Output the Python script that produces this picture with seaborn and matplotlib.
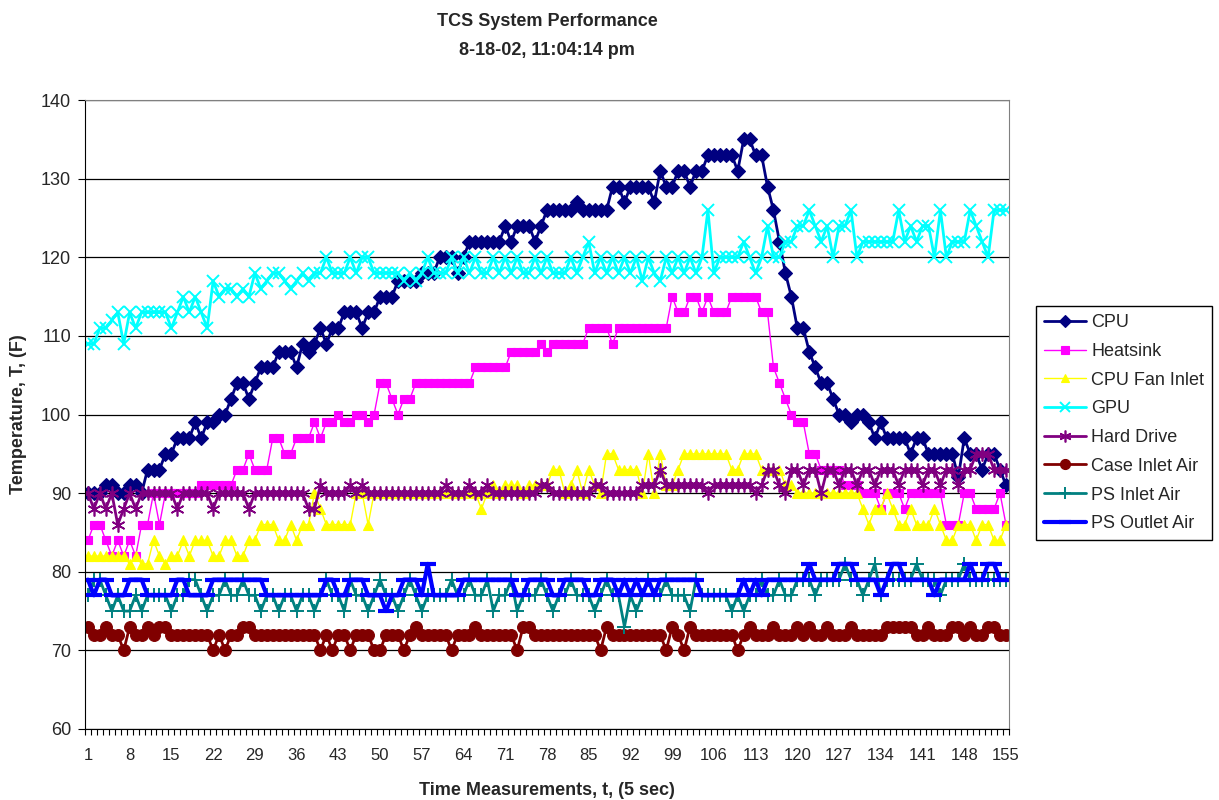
import matplotlib
matplotlib.use("Agg")
import matplotlib.pyplot as plt
import numpy as np
import pandas as pd
import seaborn as sns

# temperature log, one reading every 5 s (deg F)
time_idx = list(range(1, 156))

cpu = [90, 90, 90, 91, 91, 90, 90, 91, 91, 90,
       93, 93, 93, 95, 95, 97, 97, 97, 99, 97,
       99, 99, 100, 100, 102, 104, 104, 102, 104, 106,
       106, 106, 108, 108, 108, 106, 109, 108, 109, 111,
       109, 111, 111, 113, 113, 113, 111, 113, 113, 115,
       115, 115, 117, 117, 117, 117, 118, 118, 118, 120,
       120, 120, 118, 120, 122, 122, 122, 122, 122, 122,
       124, 122, 124, 124, 124, 122, 124, 126, 126, 126,
       126, 126, 127, 126, 126, 126, 126, 126, 129, 129,
       127, 129, 129, 129, 129, 127, 131, 129, 129, 131,
       131, 129, 131, 131, 133, 133, 133, 133, 133, 131,
       135, 135, 133, 133, 129, 126, 122, 118, 115, 111,
       111, 108, 106, 104, 104, 102, 100, 100, 99, 100,
       100, 99, 97, 99, 97, 97, 97, 97, 95, 97,
       97, 95, 95, 95, 95, 95, 92, 97, 95, 95,
       93, 95, 95, 93, 91]

heatsink = [84, 86, 86, 84, 82, 84, 82, 84, 82, 86,
            86, 90, 86, 90, 90, 90, 90, 90, 90, 91,
            91, 91, 91, 91, 91, 93, 93, 95, 93, 93,
            93, 97, 97, 95, 95, 97, 97, 97, 99, 97,
            99, 99, 100, 99, 99, 100, 100, 99, 100, 104,
            104, 102, 100, 102, 102, 104, 104, 104, 104, 104,
            104, 104, 104, 104, 104, 106, 106, 106, 106, 106,
            106, 108, 108, 108, 108, 108, 109, 108, 109, 109,
            109, 109, 109, 109, 111, 111, 111, 111, 109, 111,
            111, 111, 111, 111, 111, 111, 111, 111, 115, 113,
            113, 115, 115, 113, 115, 113, 113, 113, 115, 115,
            115, 115, 115, 113, 113, 106, 104, 102, 100, 99,
            99, 95, 95, 93, 93, 93, 93, 91, 91, 91,
            90, 90, 90, 88, 90, 90, 90, 88, 90, 90,
            90, 90, 90, 90, 86, 86, 86, 90, 90, 88,
            88, 88, 88, 90, 86]

fan_inlet = [82, 82, 82, 82, 82, 82, 82, 81, 82, 81,
             81, 84, 82, 81, 82, 82, 84, 82, 84, 84,
             84, 82, 82, 84, 84, 82, 82, 84, 84, 86,
             86, 86, 84, 84, 86, 84, 86, 86, 90, 88,
             86, 86, 86, 86, 86, 90, 90, 86, 90, 90,
             90, 90, 90, 90, 90, 90, 90, 90, 90, 90,
             90, 90, 90, 90, 90, 90, 88, 90, 91, 90,
             91, 91, 91, 90, 91, 91, 91, 91, 93, 93,
             90, 91, 93, 90, 93, 91, 90, 95, 95, 93,
             93, 93, 93, 90, 95, 90, 95, 91, 91, 93,
             95, 95, 95, 95, 95, 95, 95, 95, 93, 93,
             95, 95, 95, 93, 93, 93, 93, 91, 91, 90,
             90, 90, 90, 90, 90, 90, 90, 90, 90, 90,
             88, 86, 88, 88, 90, 88, 86, 86, 88, 86,
             86, 86, 88, 86, 84, 84, 86, 86, 86, 84,
             86, 86, 84, 84, 86]

gpu = [109, 109, 111, 111, 112, 113, 109, 113, 111, 113,
       113, 113, 113, 113, 111, 113, 115, 113, 115, 113,
       111, 117, 115, 116, 116, 115, 116, 115, 118, 116,
       117, 118, 118, 117, 116, 117, 118, 117, 118, 118,
       120, 118, 118, 118, 120, 118, 120, 120, 118, 118,
       118, 118, 118, 117, 118, 117, 118, 120, 118, 118,
       118, 120, 118, 120, 118, 120, 118, 118, 120, 118,
       120, 118, 120, 118, 118, 120, 118, 120, 118, 118,
       118, 120, 118, 120, 122, 118, 120, 118, 120, 118,
       120, 118, 120, 117, 120, 118, 117, 120, 118, 120,
       118, 120, 118, 120, 126, 118, 120, 120, 120, 120,
       122, 120, 118, 120, 124, 120, 120, 122, 122, 124,
       124, 126, 124, 122, 124, 120, 124, 124, 126, 120,
       122, 122, 122, 122, 122, 122, 126, 122, 124, 122,
       124, 124, 120, 126, 120, 122, 122, 122, 126, 124,
       122, 120, 126, 126, 126]

hard_drive = [90, 88, 90, 88, 90, 86, 88, 90, 88, 90,
              90, 90, 90, 90, 90, 88, 90, 90, 90, 90,
              90, 88, 90, 90, 90, 90, 90, 88, 90, 90,
              90, 90, 90, 90, 90, 90, 90, 88, 88, 91,
              90, 90, 90, 90, 91, 90, 91, 90, 90, 90,
              90, 90, 90, 90, 90, 90, 90, 90, 90, 90,
              91, 90, 90, 90, 91, 90, 90, 91, 90, 90,
              90, 90, 90, 90, 90, 90, 91, 91, 90, 90,
              90, 90, 90, 90, 90, 91, 91, 90, 90, 90,
              90, 90, 90, 91, 91, 91, 93, 91, 91, 91,
              91, 91, 91, 91, 90, 91, 91, 91, 91, 91,
              91, 91, 90, 91, 93, 93, 91, 90, 93, 93,
              91, 93, 93, 90, 93, 93, 91, 93, 93, 91,
              93, 93, 91, 93, 93, 93, 91, 93, 93, 93,
              91, 93, 93, 91, 93, 93, 91, 93, 93, 95,
              95, 95, 93, 93, 93]

case_inlet = [73, 72, 72, 73, 72, 72, 70, 73, 72, 72,
              73, 72, 73, 73, 72, 72, 72, 72, 72, 72,
              72, 70, 72, 70, 72, 72, 73, 73, 72, 72,
              72, 72, 72, 72, 72, 72, 72, 72, 72, 70,
              72, 70, 72, 72, 70, 72, 72, 72, 70, 70,
              72, 72, 72, 70, 72, 73, 72, 72, 72, 72,
              72, 70, 72, 72, 72, 73, 72, 72, 72, 72,
              72, 72, 70, 73, 73, 72, 72, 72, 72, 72,
              72, 72, 72, 72, 72, 72, 70, 73, 72, 72,
              72, 72, 72, 72, 72, 72, 72, 70, 73, 72,
              70, 73, 72, 72, 72, 72, 72, 72, 72, 70,
              72, 73, 72, 72, 72, 73, 72, 72, 72, 73,
              72, 73, 72, 72, 73, 72, 72, 72, 73, 72,
              72, 72, 72, 72, 73, 73, 73, 73, 73, 72,
              72, 73, 72, 72, 72, 73, 73, 72, 73, 72,
              72, 73, 73, 72, 72]

ps_inlet = [77, 79, 79, 77, 75, 77, 75, 75, 77, 75,
            77, 77, 77, 77, 75, 77, 77, 79, 79, 77,
            75, 77, 77, 79, 77, 77, 79, 77, 77, 75,
            77, 77, 75, 77, 77, 75, 77, 77, 75, 77,
            79, 77, 77, 75, 79, 77, 77, 75, 77, 79,
            77, 77, 75, 77, 79, 77, 75, 77, 77, 77,
            77, 79, 77, 77, 79, 77, 77, 79, 75, 77,
            77, 79, 75, 77, 77, 77, 79, 77, 75, 77,
            77, 79, 77, 77, 77, 75, 77, 79, 77, 77,
            73, 77, 75, 77, 79, 77, 77, 79, 77, 77,
            77, 75, 79, 77, 77, 77, 77, 77, 75, 77,
            75, 77, 77, 79, 77, 77, 79, 77, 77, 79,
            79, 79, 77, 79, 79, 79, 79, 81, 79, 79,
            77, 79, 81, 77, 79, 79, 79, 79, 79, 81,
            79, 79, 79, 77, 79, 79, 79, 81, 79, 79,
            79, 79, 79, 79, 79]

ps_outlet = [79, 77, 79, 79, 77, 77, 77, 79, 79, 79,
             77, 77, 77, 77, 77, 79, 79, 77, 77, 77,
             77, 79, 79, 79, 79, 79, 79, 79, 79, 79,
             77, 77, 77, 77, 77, 77, 77, 77, 77, 77,
             79, 79, 77, 77, 79, 79, 79, 77, 77, 77,
             75, 77, 77, 79, 79, 79, 77, 81, 77, 77,
             77, 77, 77, 79, 79, 79, 79, 79, 79, 79,
             79, 79, 77, 77, 79, 79, 79, 79, 77, 77,
             79, 79, 79, 79, 77, 77, 79, 79, 79, 77,
             79, 77, 79, 77, 79, 77, 79, 79, 79, 79,
             79, 79, 79, 77, 77, 77, 77, 77, 77, 77,
             79, 77, 79, 77, 79, 79, 79, 79, 79, 79,
             79, 81, 79, 79, 79, 79, 81, 81, 81, 79,
             79, 79, 79, 77, 79, 81, 81, 79, 79, 79,
             79, 79, 77, 79, 79, 79, 79, 79, 81, 79,
             79, 81, 81, 79, 79]

series_names = ["CPU", "Heatsink", "CPU Fan Inlet", "GPU", "Hard Drive",
                "Case Inlet Air", "PS Inlet Air", "PS Outlet Air"]
series_values = [cpu, heatsink, fan_inlet, gpu, hard_drive,
                 case_inlet, ps_inlet, ps_outlet]
series_colors = ["#000080", "#FF00FF", "#FFFF00", "#00FFFF", "#800080",
                 "#800000", "#008080", "#0000FF"]

# excel-ish marker styles per series
line_styles = [
    dict(marker="D", markersize=7, linewidth=2, markeredgewidth=0.8),
    dict(marker="s", markersize=6, linewidth=1, markeredgewidth=0.8),
    dict(marker="^", markersize=6.5, linewidth=1, markeredgewidth=0.8),
    dict(marker="x", markersize=8, linewidth=2, markeredgewidth=1.4),
    dict(marker=(6, 2, 0), markersize=10, linewidth=2, markeredgewidth=1.2),
    dict(marker="o", markersize=8.5, linewidth=2, markeredgewidth=0.8),
    dict(marker="+", markersize=10, linewidth=2, markeredgewidth=1.4),
    dict(marker="_", markersize=11, linewidth=3, markeredgewidth=3),
]

sns.set_style("white")
plt.rcParams["font.family"] = ["Liberation Sans", "DejaVu Sans"]

fig = plt.figure(figsize=(12.19, 8), dpi=100)
ax = fig.add_axes([0.0697, 0.0888, 0.758, 0.786])

for name, vals, color, st in zip(series_names, series_values, series_colors, line_styles):
    assert len(vals) == len(time_idx), name
    df = pd.DataFrame({"t": time_idx, "temp": vals})
    sns.lineplot(data=df, x="t", y="temp", ax=ax, color=color, label=name,
                 estimator=None, markeredgecolor=color, markerfacecolor=color, **st)

ax.set_ylim(60, 140)
ax.set_yticks(range(60, 141, 10))
ax.set_xlim(0.5, 155.5)
ax.set_xticks(range(1, 156, 7))
# category boundaries get the little tick marks, labels sit on the categories
ax.set_xticks(np.arange(0.5, 156, 1), minor=True)
ax.tick_params(axis="x", which="major", length=0, pad=14, labelsize=12)
ax.tick_params(axis="x", which="minor", bottom=True, length=4, width=0.8, color="black")
ax.tick_params(axis="y", labelsize=13, direction="out", length=5, pad=5,
               left=True, color="black")
ax.yaxis.grid(True, color="black", linewidth=0.9)
ax.set_axisbelow(True)

for side in ["left", "bottom"]:
    ax.spines[side].set_color("black")
for side in ["top", "right"]:
    ax.spines[side].set_color("#808080")

ax.set_xlabel("Time Measurements, t, (5 sec)", fontsize=13, fontweight="bold")
ax.set_ylabel("Temperature, T, (F)", fontsize=13, fontweight="bold")
ax.xaxis.set_label_coords(0.5, -0.084)
ax.yaxis.set_label_coords(-0.063, 0.5)

fig.text(0.449, 0.973, "TCS System Performance", ha="center", va="center",
         fontsize=13, fontweight="bold")
fig.text(0.449, 0.937, "8-18-02, 11:04:14 pm", ha="center", va="center",
         fontsize=13, fontweight="bold")

handles, labels = ax.get_legend_handles_labels()
leg = ax.legend(handles, labels, loc="upper left",
                bbox_to_anchor=(1036 / 1219, 1 - 306 / 800),
                bbox_transform=fig.transFigure, frameon=True, fancybox=False,
                edgecolor="black", framealpha=1, borderaxespad=0,
                fontsize=13, handlelength=2.3, handletextpad=0.3,
                labelspacing=0.65, borderpad=0.45, markerscale=0.85)
leg.get_frame().set_linewidth(1.0)

fig.savefig("out.png", dpi=100)
